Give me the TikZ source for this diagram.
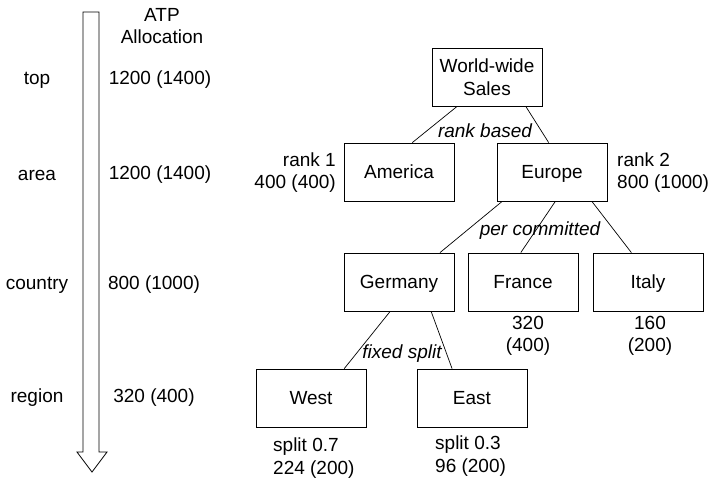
\documentclass[tikz,border=0pt]{standalone}
\usepackage{fontspec}
\setmainfont{Liberation Sans}
\usetikzlibrary{calc, positioning}

\begin{document}
\begin{tikzpicture}[
    x=1pt, y=-1pt,
    box/.style={rectangle, draw=black, line width=0.8pt, minimum width=110pt, minimum height=58pt, inner sep=0pt, font=\fontsize{19}{22.5}\selectfont},
    onerow/.style={text height=13.5pt, text depth=1pt},
    label/.style={inner sep=0pt, font=\fontsize{19}{22.5}\selectfont, align=center},
    rule/.style={inner sep=0pt, font=\fontsize{19}{22.5}\selectfont\itshape},
    link/.style={draw=black, line width=0.7pt}
]
\useasboundingbox (0,0) rectangle (711,482);
% level arrow
\draw[line width=0.8pt, fill=white] (83,12) -- (99,12) -- (99,452) -- (107,452) -- (92,472) -- (77,452) -- (83,452) -- cycle;
\node[label] (atp) at (162,26) {ATP\\Allocation};
\node[label] (ltop) at (37,80) {top};
\node[label] (larea) at (37,175) {area};
\node[label] (lcountry) at (37,285) {country};
\node[label] (lregion) at (37,398) {region};
\node[label] (vtop) at (160,80) {1200 (1400)};
\node[label] (varea) at (160,175) {1200 (1400)};
\node[label] (vcountry) at (154,285) {800 (1000)};
\node[label] (vregion) at (154,398) {320 (400)};
% tree
\node[box, align=center] (wws) at (487,77) {World-wide\\Sales};
\node[box, onerow] (america) at (399,172) {America};
\node[box, onerow] (europe) at (552,172) {Europe};
\node[box, onerow] (germany) at (399,282) {Germany};
\node[box, onerow] (france) at (523,282) {France};
\node[box, onerow] (italy) at (648,282) {Italy};
\node[box, onerow] (west) at (311,398) {West};
\node[box, onerow] (east) at (472,398) {East};
\draw[link] ($(wws.south west)!.23!(wws.south east)$) -- ($(america.north west)!.62!(america.north east)$);
\draw[link] ($(wws.south west)!.85!(wws.south east)$) -- ($(europe.north west)!.47!(europe.north east)$);
\draw[link] ($(europe.south west)!.05!(europe.south east)$) -- ($(germany.north west)!.87!(germany.north east)$);
\draw[link] ($(europe.south west)!.53!(europe.south east)$) -- ($(france.north west)!.48!(france.north east)$);
\draw[link] ($(europe.south west)!.86!(europe.south east)$) -- ($(italy.north west)!.35!(italy.north east)$);
\draw[link] ($(germany.south west)!.42!(germany.south east)$) -- ($(west.north west)!.8!(west.north east)$);
\draw[link] ($(germany.south west)!.79!(germany.south east)$) -- ($(east.north west)!.32!(east.north east)$);
\node[rule] (rrank) at (485,131) {rank based};
\node[rule] (rcommit) at (540,231) {per committed};
\node[rule] (rsplit) at (402,354) {fixed split};
\node[label, align=right, anchor=east] (namerica) at (336,172.5) {rank 1\\400 (400)};
\node[label, align=left, anchor=west] (neurope) at (617,172.5) {rank 2\\800 (1000)};
\node[label] (nfrance) at (528,336) {320\\(400)};
\node[label] (nitaly) at (650,336) {160\\(200)};
\node[label, align=left, anchor=west] (nwest) at (273,458) {split 0.7\\224 (200)};
\node[label, align=left, anchor=west] (neast) at (435,456) {split 0.3\\96 (200)};
\end{tikzpicture}
\end{document}
